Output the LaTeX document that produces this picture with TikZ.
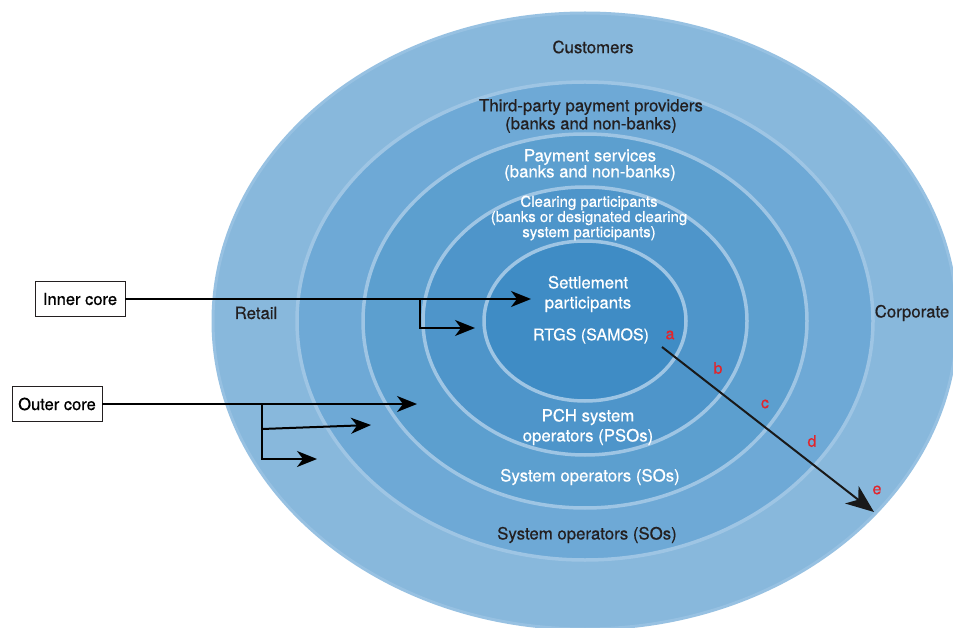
\documentclass[tikz,border=0pt]{standalone}
\usepackage{fontspec}
\setmainfont[FakeBold=0.6]{TeX Gyre Heros}
\usetikzlibrary{calc,arrows.meta,positioning}

\definecolor{ringA}{HTML}{88B8DC}
\definecolor{ringB}{HTML}{6EA9D6}
\definecolor{ringC}{HTML}{5C9FCF}
\definecolor{ringD}{HTML}{4E95CA}
\definecolor{ringE}{HTML}{3F8CC5}
\definecolor{ringline}{HTML}{9EC5E4}
\definecolor{darktext}{HTML}{231F20}
\definecolor{markred}{HTML}{E3242B}

\begin{document}
\begin{tikzpicture}[x=1pt,y=-1pt,
    ring/.style={draw=ringline,line width=3.5pt},
    darklab/.style={align=center,text=darktext,inner sep=0pt,font=\fontsize{16.8}{18}\selectfont},
    whitelab/.style={align=center,text=white,inner sep=0pt,font=\fontsize{16.8}{18}\selectfont},
    marklab/.style={text=markred,inner sep=0pt,font=\fontsize{16}{16}\selectfont},
    corebox/.style={draw=darktext,line width=0.8pt,fill=white,minimum width=90pt,minimum height=35pt,inner sep=0pt,font=\fontsize{16.5}{18}\selectfont},
    arr/.style={-{Stealth[length=20pt,width=16pt,inset=6pt]},line width=2pt,draw=black}]
  \useasboundingbox (0,0) rectangle (953,628);
  \clip (0,0) rectangle (953,628);
  \fill[white] (0,0) rectangle (953,628);

  % rings, outside in
  \coordinate (O) at (585,321);
  \filldraw[fill=ringA,draw=ringline!70!ringA,line width=3pt] (O) ellipse [x radius=372, y radius=308];
  \filldraw[fill=ringB,ring] (O) ellipse [x radius=288, y radius=239];
  \filldraw[fill=ringC,ring] (O) ellipse [x radius=222, y radius=187];
  \filldraw[fill=ringD,ring] (O) ellipse [x radius=162, y radius=134];
  \filldraw[fill=ringE,ring] (O) ellipse [x radius=101, y radius=80];

  % ring labels
  \node[darklab] (customers) at (593,47) {Customers};
  \node[darklab] (thirdparty) at (591,116) {Third-party payment providers\\(banks and non-banks)};
  \node[whitelab,font=\fontsize{16.8}{16}\selectfont] (payserv) at (590,165) {Payment services\\(banks and non-banks)};
  \node[whitelab,font=\fontsize{15}{12}\selectfont] (clearing) at (589,218) {Clearing participants\\(banks or designated clearing\\system participants)};
  \node[whitelab,font=\fontsize{16.8}{20}\selectfont] (settle) at (588,294) {Settlement\\participants};
  \node[whitelab,font=\fontsize{16}{18}\selectfont] (rtgs) at (591,336) {RTGS (SAMOS)};
  \node[whitelab,font=\fontsize{16.8}{20}\selectfont] (pch) at (588,427) {PCH system\\operators (PSOs)};
  \node[whitelab] (sosin) at (590,477) {System operators (SOs)};
  \node[darklab] (sosout) at (587,535) {System operators (SOs)};
  \node[darklab] (retail) at (256,313) {Retail};
  \node[darklab] (corporate) at (912,313) {Corporate};

  % core boxes and their arrows
  \node[corebox] (inner) at (80,299) {Inner core};
  \node[corebox] (outer) at (57,404) {Outer core};

  \coordinate (settleTip) at (531,299);
  \coordinate (ibranch) at (420,299);
  \coordinate (clearTip) at (475,328);
  \draw[arr] (inner.east) -- (settleTip);
  \draw[arr] (ibranch) |- (clearTip);

  \coordinate (payTip) at (417,404);
  \coordinate (obranch) at (262,404);
  \coordinate (obranchmid) at (262,429);
  \coordinate (tppTip) at (371,425);
  \coordinate (custTip) at (317,459);
  \draw[arr] (outer.east) -- (payTip);
  \draw[arr] (obranchmid) -- (tppTip);
  \draw[arr] (obranch) |- (custTip);

  % diagonal a--e
  \coordinate (rtgsEnd) at (662,347);
  \coordinate (eTip) at (874,512);
  \draw[-{Stealth[length=28pt,width=22pt,inset=8pt]},line width=2pt,draw=black!90] (rtgsEnd) -- (eTip);
  \node[marklab] (la) at (670,335) {a};
  \node[marklab] (lb) at (718,368) {b};
  \node[marklab] (lc) at (765,404) {c};
  \node[marklab] (ld) at (812,441) {d};
  \node[marklab] (le) at (877,490) {e};
\end{tikzpicture}
\end{document}
